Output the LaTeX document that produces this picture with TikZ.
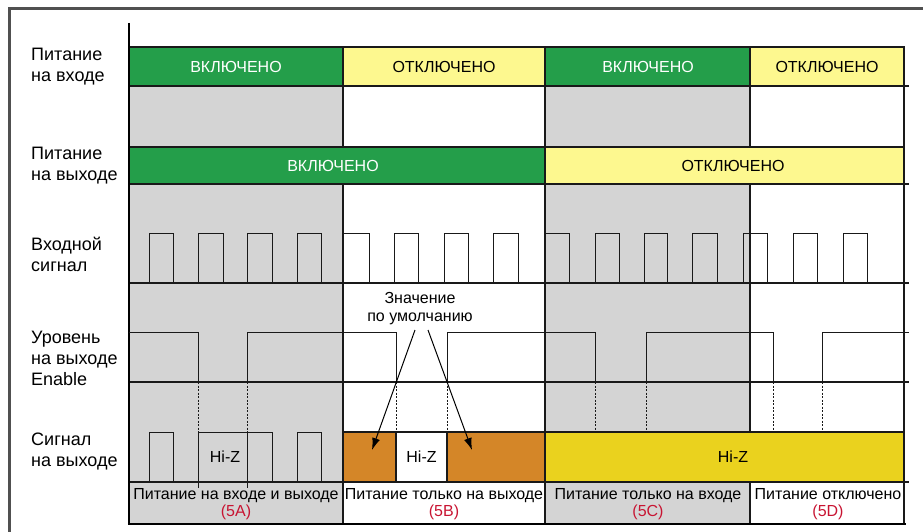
\documentclass[tikz,border=0pt]{standalone}
\usepackage{fontspec}
\setmainfont{Liberation Sans}
\usetikzlibrary{arrows.meta}
\definecolor{pgreen}{RGB}{36,158,74}
\definecolor{pyellow}{RGB}{253,248,143}
\definecolor{pgray}{RGB}{212,212,212}
\definecolor{porange}{RGB}{212,134,40}
\definecolor{pgold}{RGB}{234,210,30}
\definecolor{pred}{RGB}{200,20,50}
\definecolor{pline}{RGB}{25,25,25}
\definecolor{pframe}{RGB}{80,80,80}
\begin{document}
\begin{tikzpicture}[x=1pt,y=-1pt,
  sigline/.style={draw=pline, line width=1pt},
  sepline/.style={draw=pline, line width=1.2pt},
  dashline/.style={draw=pline, line width=0.8pt, dash pattern=on 2pt off 1.5pt},
  barbox/.style={draw=pline, line width=1.2pt},
  lbl/.style={font=\fontsize{18}{21}\selectfont, align=left, anchor=west, inner sep=0},
  boxtxt/.style={font=\fontsize{16}{19}\selectfont, inner sep=0},
  captxt/.style={font=\fontsize{16}{17}\selectfont, align=center, inner sep=0},
  arr/.style={draw=black, line width=1pt, -{Latex[length=12pt,width=8pt]}}
]
\useasboundingbox (0,0) rectangle (923,532);
% outer frame
\draw[draw=pframe, line width=2.2pt] (9.5,540) -- (9.5,8.5) -- (930,8.5);
% shaded phases
\fill[pgray] (129,86) rectangle (343,524);
\fill[pgray] (545,86) rectangle (750,524);
% power bars
\draw[barbox, fill=pgreen] (129,47) rectangle (343,86);
\draw[barbox, fill=pyellow] (343,47) rectangle (545,86);
\draw[barbox, fill=pgreen] (545,47) rectangle (750,86);
\draw[barbox, fill=pyellow] (750,47) rectangle (904,86);
\draw[barbox, fill=pgreen] (129,147) rectangle (545,184);
\draw[barbox, fill=pyellow] (545,147) rectangle (904,184);
% output bars
\draw[barbox, fill=porange] (343,432) rectangle (396,482);
\draw[barbox, fill=white] (396,432) rectangle (447,482);
\draw[barbox, fill=porange] (447,432) rectangle (545,482);
\draw[barbox, fill=pgold] (545,432) rectangle (904,482);
% grid lines
\foreach \yy in {86,184,283,482} \draw[sepline] (129,\yy) -- (909,\yy);
\draw[draw=pline, line width=1.8pt] (129,382) -- (909,382);
\foreach \xx in {343,750} {
  \draw[sepline] (\xx,86) -- (\xx,147);
  \draw[sepline] (\xx,184) -- (\xx,432);
  \draw[sepline] (\xx,482) -- (\xx,524);
}
\draw[sepline] (545,86) -- (545,524);
\draw[draw=pline, line width=2pt] (904,47) -- (904,525);
\draw[black, line width=2.5pt] (129,23) -- (129,525.25);
\draw[black, line width=2.5pt] (127.75,524) -- (906,524);
% input signal
\foreach \a/\b in {149/173,198/223,247/272,297/321,343/369,394/418,444/468,493/518,545/569,595/619,644/667,692/717,743/767,793/817,843/867}
  \draw[sigline] (\a,283) -- (\a,233) -- (\b,233) -- (\b,283);
% enable
\draw[sigline] (129,332) -- (198,332) -- (198,382);
\draw[sigline] (247,382) -- (247,332) -- (396,332) -- (396,382);
\draw[sigline] (447,382) -- (447,332) -- (595,332) -- (595,382);
\draw[sigline] (646,382) -- (646,332) -- (773,332) -- (773,382);
\draw[sigline] (822,382) -- (822,332) -- (909,332);
% output signal A
\foreach \a/\b in {149/173,297/321}
  \draw[sigline] (\a,482) -- (\a,432) -- (\b,432) -- (\b,482);
\draw[sigline] (198,488) -- (198,432) -- (272,432) -- (272,482);
\draw[sigline] (247,432) -- (247,488);
% dashed guides
\foreach \xx in {198,247,396,447,595,646,773,822}
  \draw[dashline] (\xx,382) -- (\xx,432);
% bar texts
\node[boxtxt, text=white] (t1a) at (236,66.5) {ВКЛЮЧЕНО};
\node[boxtxt] (t1b) at (444,66.5) {ОТКЛЮЧЕНО};
\node[boxtxt, text=white] (t1c) at (648,66.5) {ВКЛЮЧЕНО};
\node[boxtxt] (t1d) at (827,66.5) {ОТКЛЮЧЕНО};
\node[boxtxt, text=white] (t2a) at (333,165.5) {ВКЛЮЧЕНО};
\node[boxtxt] (t2b) at (733,165.5) {ОТКЛЮЧЕНО};
\node[boxtxt] (hza) at (225,457) {Hi-Z};
\node[boxtxt] (hzb) at (421.5,457) {Hi-Z};
\node[boxtxt] (hzc) at (733,457) {Hi-Z};
% left labels
\node[lbl] (l1) at (31,66.5) {Питание\\на входе};
\node[lbl] (l2) at (31,165.5) {Питание\\на выходе};
\node[lbl] (l3) at (31,254) {Входной\\сигнал};
\node[lbl] (l4) at (31,358) {Уровень\\на выходе\\Enable};
\node[lbl] (l5) at (31,452) {Сигнал\\на выходе};
% phase captions
\node[captxt] (c1) at (236,504.5) {Питание на входе и выходе\\\textcolor{pred}{(5A)}};
\node[captxt] (c2) at (444,504.5) {Питание только на выходе\\\textcolor{pred}{(5B)}};
\node[captxt] (c3) at (648,504.5) {Питание только на входе\\\textcolor{pred}{(5C)}};
\node[captxt] (c4) at (828,504.5) {Питание отключено\\\textcolor{pred}{(5D)}};
% default value note
\node[captxt, font=\fontsize{16}{18}\selectfont] (dv) at (420,309) {Значение\\по умолчанию};
\coordinate (a1s) at (415,330);
\coordinate (a1e) at (372,450);
\coordinate (a2s) at (428,330);
\coordinate (a2e) at (472,450);
\draw[arr] (a1s) -- (a1e);
\draw[arr] (a2s) -- (a2e);
\end{tikzpicture}
\end{document}
